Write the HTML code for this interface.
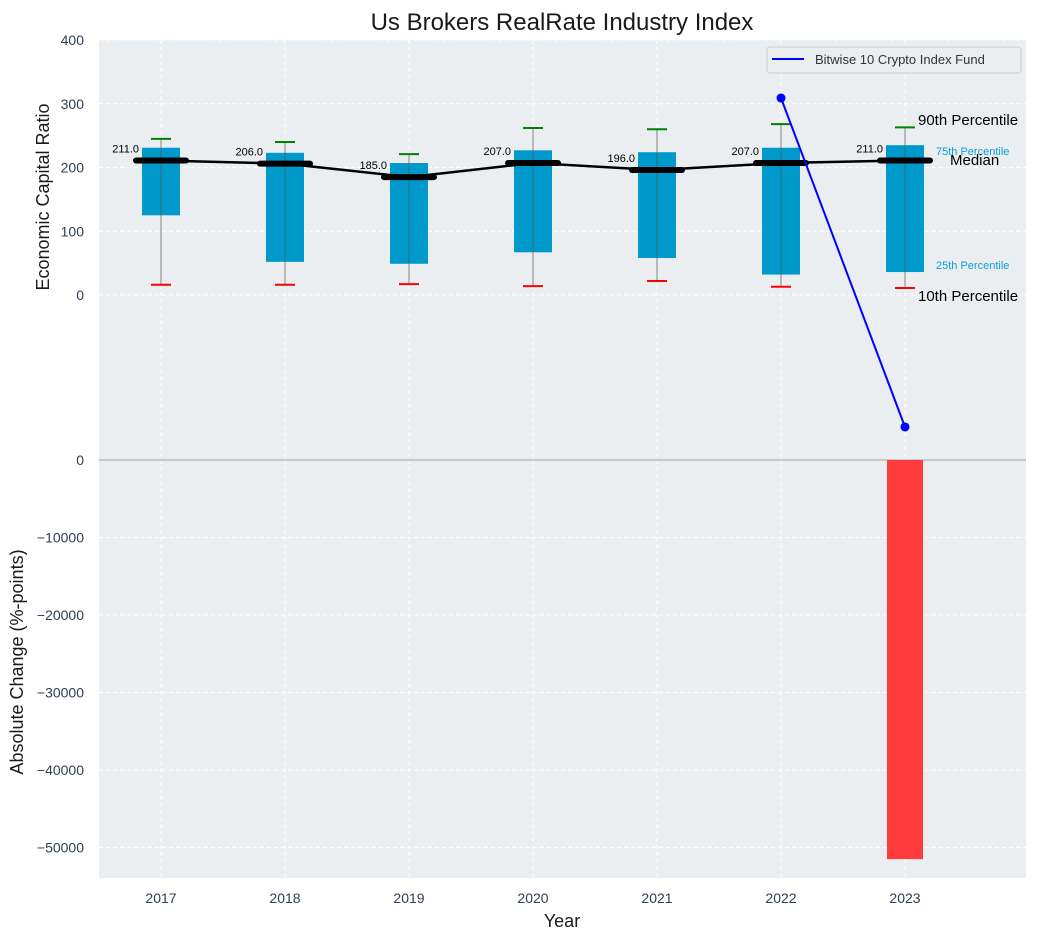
<!DOCTYPE html>
<html><head><meta charset="utf-8"><style>
body{margin:0;background:#fff;}
svg{display:block;font-family:"Liberation Sans",sans-serif;}
</style></head><body>
<svg id="chart" width="1038" height="940" viewBox="0 0 1038 940" xmlns="http://www.w3.org/2000/svg"></svg>
<script>
const years=["2017","2018","2019","2020","2021","2022","2023"];
const p10=[16,16,17,14,22,13,11];
const p25=[125,52,49,67,58,32,36];
const median=[211,206,185,207,196,207,211];
const p75=[231,223,207,227,224,231,235];
const p90=[245,240,221,262,260,268,263];
const fundYears=[5,6];
const fundValues=[309,-207];
const changeValues=[0,0,0,0,0,0,-51500];
const topTicks=[0,100,200,300,400];
const botTicks=[0,-10000,-20000,-30000,-40000,-50000];

const svg=document.getElementById('chart');
const NS='http://www.w3.org/2000/svg';
function el(tag,attrs,parent){const e=document.createElementNS(NS,tag);for(const k in attrs)e.setAttribute(k,attrs[k]);(parent||svg).appendChild(e);return e;}
const L=99,R=1026,T=40,B=878;
const xs=i=>161+i*124;
const yt=v=>295-v*0.6375;
const yb=v=>460-v*0.00775;

const bg=el('rect',{x:L,y:T,width:R-L,height:B-T,fill:'#eaeef0'});


years.forEach((y,i)=>{const g=el('line',{x1:xs(i),x2:xs(i),y1:T,y2:B,stroke:'#fff','stroke-dasharray':'4,3','stroke-width':1});
});
topTicks.forEach(v=>{const g=el('line',{x1:L,x2:R,y1:yt(v),y2:yt(v),stroke:'#fff','stroke-dasharray':'4,3'});

const t=el('text',{x:84,y:yt(v)+5,'text-anchor':'end','font-size':14,fill:'#2e3e55'});t.textContent=v;
});
botTicks.forEach(v=>{const g=el('line',{x1:L,x2:R,y1:yb(v),y2:yb(v),stroke:'#fff','stroke-dasharray':'4,3'});

const t=el('text',{x:84,y:yb(v)+5,'text-anchor':'end','font-size':14,fill:'#2e3e55'});t.textContent=v<0?'\u2212'+(-v):v;
});
const zl=el('line',{x1:L,x2:R,y1:yb(0),y2:yb(0),stroke:'#b8bcbf','stroke-width':1.5});


changeValues.forEach((v,i)=>{if(!v)return;const r=el('rect',{x:xs(i)-18,y:yb(0),width:36,height:yb(v)-yb(0),fill:'#ff3b3b'});
});

years.forEach((y,i)=>{const x=xs(i);
const r=el('rect',{x:x-19,y:yt(p75[i]),width:38,height:yt(p25[i])-yt(p75[i]),fill:'#0099cc'});

const w=el('line',{x1:x,x2:x,y1:yt(p90[i]),y2:yt(p10[i]),stroke:'#555','stroke-width':1,opacity:0.7});

const g=el('line',{x1:x-10,x2:x+10,y1:yt(p90[i]),y2:yt(p90[i]),stroke:'green','stroke-width':2});

const rd=el('line',{x1:x-10,x2:x+10,y1:yt(p10[i]),y2:yt(p10[i]),stroke:'red','stroke-width':2});

});
const mp=el('polyline',{points:median.map((v,i)=>xs(i)+','+yt(v)).join(' '),fill:'none',stroke:'#000','stroke-width':2.5});

median.forEach((v,i)=>{const x=xs(i);
const m=el('line',{x1:x-25,x2:x+25,y1:yt(v),y2:yt(v),stroke:'#000','stroke-width':6,'stroke-linecap':'round'});

const t=el('text',{x:x-22,y:yt(v)-8,'text-anchor':'end','font-size':11,fill:'#000'});t.textContent=v.toFixed(1);
});

const fp=el('polyline',{points:fundYears.map((yi,k)=>xs(yi)+','+yt(fundValues[k])).join(' '),fill:'none',stroke:'#0000ff','stroke-width':2});

fundYears.forEach((yi,k)=>{const c=el('circle',{cx:xs(yi),cy:yt(fundValues[k]),r:4.5,fill:'#0000ff'});
});

function txt(name,x,y,s,size,fill,anchor){const t=el('text',{x:x,y:y,'font-size':size,fill:fill,'text-anchor':anchor||'start'});t.textContent=s;
return t;}
txt('p90-annotation',918,125,'90th Percentile',15,'#000');
txt('p75-annotation',936,155,'75th Percentile',11,'#0aa0d8');
txt('median-annotation',950,165,'Median',15,'#000');
txt('p25-annotation',936,269,'25th Percentile',11,'#0aa0d8');
txt('p10-annotation',918,301,'10th Percentile',15,'#000');

years.forEach((y,i)=>{txt('x-tick-label',xs(i),903,y,14,'#2e3e55','middle');});
txt('chart-title',562,30,'Us Brokers RealRate Industry Index',24,'#1a1a1a','middle');
txt('x-axis-title',562,927,'Year',18,'#1a1a1a','middle');
const y1=txt('y-axis-title',0,0,'Economic Capital Ratio',18,'#1a1a1a','middle');y1.setAttribute('transform','translate(49,197) rotate(-90)');
const y2=txt('y2-axis-title',0,0,'Absolute Change (%-points)',18,'#1a1a1a','middle');y2.setAttribute('transform','translate(23,662) rotate(-90)');

const lg=el('g',{});

el('rect',{x:767,y:47,width:254,height:26,rx:3,fill:'#eaeef0',stroke:'#ccc'},lg);
el('line',{x1:772,x2:804,y1:59,y2:59,stroke:'#0000ff','stroke-width':2},lg);
const lt=el('text',{x:815,y:64,'font-size':13,fill:'#333'},lg);lt.textContent='Bitwise 10 Crypto Index Fund';

</script>
</body></html>
